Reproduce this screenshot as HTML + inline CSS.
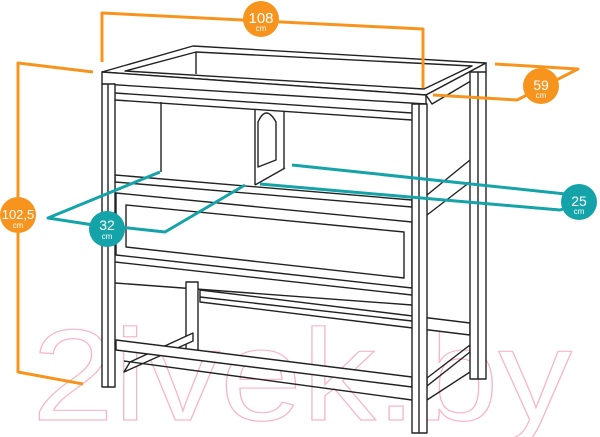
<!DOCTYPE html>
<html><head><meta charset="utf-8"><style>
html,body{margin:0;padding:0;background:#fff}
svg{display:block}
</style></head><body>
<svg width="600" height="437" viewBox="0 0 600 437" xmlns="http://www.w3.org/2000/svg" font-family="Liberation Sans, sans-serif">
<!-- watermark -->
<text x="32" y="420" font-size="130" fill="none" stroke="#f7b6c8" stroke-width="1.2" textLength="540" lengthAdjust="spacingAndGlyphs">2ivek.by</text>
<g fill="none" stroke="#222" stroke-width="1.4" stroke-linejoin="round">
<!-- top surface -->
<polygon points="102,72 193,46 486,63 426,95"/>
<polygon points="125,71 196,52 472,66 424,89" />
<line x1="196" y1="52" x2="196" y2="74"/>
<!-- top front face -->
<polygon points="102,72 426,95 426,104 102,84" fill="#fff"/>
<polygon points="426,95 486,63 486,72 432,104" fill="#fff"/>
<line x1="115" y1="93" x2="412" y2="113"/>
<line x1="115" y1="100" x2="412" y2="120"/>
<!-- back panel / box -->
<line x1="161" y1="102" x2="161" y2="172"/>
<line x1="255" y1="110" x2="255" y2="185"/>
<line x1="284" y1="112" x2="284" y2="168"/>
<line x1="255" y1="185" x2="285" y2="168"/>
<path d="M258,167 L258,122 Q266,104 276,122 L276,160 Z"/>
<!-- shelf rail -->
<polygon points="115,175 412,200 412,207 115,182" fill="#fff"/>
<!-- drawer -->
<polygon points="116,193 412,222 412,288 116,255" fill="#fff"/>
<polygon points="126,205 404,232 404,278 126,247"/>
<!-- below drawer rail -->
<line x1="115" y1="262" x2="412" y2="295"/>
<line x1="115" y1="283" x2="412" y2="305"/>
<!-- back bottom rail -->
<polygon points="200,290 470,323 470,335 200,302" fill="#fff"/>
<line x1="200" y1="297" x2="412" y2="321"/>
<!-- back left leg -->
<rect x="186" y="282" width="12" height="75" fill="#fff"/>
<!-- side stretcher left -->
<polygon points="130,362 193,333 193,341 124,372" fill="#fff"/>
<!-- front bottom stretcher -->
<polygon points="116,340 412,377 412,387 116,350" fill="#fff"/>
<line x1="124" y1="361" x2="412" y2="400"/>
<!-- right side -->
<line x1="427" y1="195" x2="470" y2="160"/>
<line x1="427" y1="215" x2="470" y2="182"/>
<polygon points="427,378 470,345 470,352 427,386"/>
<line x1="427" y1="400" x2="470" y2="372"/>
<!-- legs -->
<rect x="102" y="84" width="13" height="303" fill="#fff"/>
<line x1="108" y1="84" x2="108" y2="387"/>
<rect x="412" y="104" width="15" height="329" fill="#fff"/>
<line x1="419" y1="104" x2="419" y2="433"/>
<rect x="470" y="72" width="16" height="307" fill="#fff"/>
<line x1="478" y1="72" x2="478" y2="379"/>
</g>
<!-- teal dims -->
<g fill="none" stroke="#14a3a8" stroke-width="3" stroke-linejoin="round">
<polyline points="160,172 48,218 100,226"/>
<polyline points="245,185 165,232 110,226"/>
<polyline points="260,184 560,210 575,205"/>
<polyline points="292,165 575,195"/>
</g>
<g fill="#14a3a8"><circle cx="107" cy="229" r="18"/><circle cx="579" cy="202" r="18"/></g>
<!-- orange dims -->
<g fill="none" stroke="#f7941d" stroke-width="3" stroke-linejoin="round">
<polyline points="102,62 102,13 423,29 423,88"/>
<polyline points="93,72 18,63 18,372 83,384"/>
<polyline points="433,95 517,100 578,69 495,64"/>
</g>
<g fill="#f7941d"><circle cx="261" cy="19" r="18"/><circle cx="18" cy="215" r="18"/><circle cx="541" cy="86" r="18"/></g>
<g fill="#fff" text-anchor="middle">
<text x="261" y="23" font-size="15">108</text><text x="261" y="31" font-size="8">cm</text>
<text x="18" y="219" font-size="13">102,5</text><text x="18" y="228" font-size="8">cm</text>
<text x="541" y="90" font-size="14">59</text><text x="541" y="98" font-size="8">cm</text>
<text x="107" y="230" font-size="14">32</text><text x="107" y="239" font-size="8">cm</text>
<text x="579" y="206" font-size="14">25</text><text x="579" y="214" font-size="8">cm</text>
</g>
</svg>
</body></html>
